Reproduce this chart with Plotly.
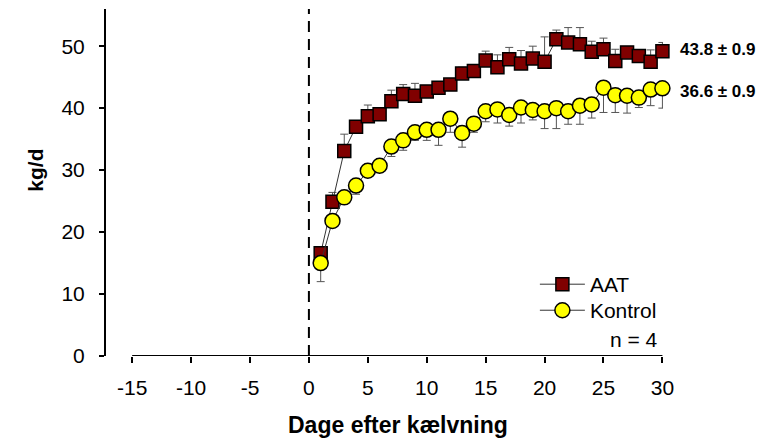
import plotly.graph_objects as go

days = list(range(1, 31))
aat = [16.6, 24.9, 33.1, 37.0, 38.7, 39.0, 41.1, 42.3, 42.0, 42.7,
       43.3, 43.8, 45.6, 46.0, 47.7, 46.6, 47.9, 47.2, 48.0, 47.5,
       51.1, 50.6, 50.3, 49.1, 49.5, 47.6, 49.0, 48.4, 47.5, 49.2]
aat_err = [1.0, 1.5, 2.7, 0.8, 1.8, 0.8, 1.8, 1.5, 2.0, 0.8,
           1.0, 1.0, 1.0, 0.8, 1.5, 2.0, 1.9, 2.1, 2.0, 4.0,
           1.5, 2.4, 2.7, 1.7, 1.8, 1.9, 0.9, 0.8, 1.9, 1.4]
kon = [15.0, 21.8, 25.6, 27.5, 29.9, 30.7, 33.8, 34.8, 36.1, 36.5,
       36.5, 38.3, 36.0, 37.5, 39.5, 39.8, 38.9, 40.1, 39.7, 39.5,
       40.0, 39.5, 40.4, 40.6, 43.3, 42.1, 42.0, 41.7, 43.0, 43.2]
kon_err = [3.0, 0.9, 0.9, 1.4, 0.9, 1.1, 1.6, 1.6, 1.3, 1.7,
           2.5, 2.2, 2.3, 1.4, 1.7, 2.2, 1.8, 2.5, 1.6, 2.8,
           3.3, 2.1, 3.0, 2.2, 4.0, 2.8, 2.8, 1.6, 2.6, 3.2]

x_ticks = [-15, -10, -5, 0, 5, 10, 15, 20, 25, 30]
x_ticklabels = ["-15", "-10", "-5", "0", "5", "10", "15", "20", "25", "30"]
y_ticks = [0, 10, 20, 30, 40, 50]

font_family = "Arial, Liberation Sans, sans-serif"

fig = go.Figure()
fig.add_trace(go.Scatter(
    x=days, y=aat, name="AAT", mode="lines+markers", legend="legend",
    line=dict(color="#333333", width=1),
    marker=dict(symbol="square", size=13, color="#800000",
                line=dict(color="black", width=1.5)),
    error_y=dict(type="data", array=aat_err, arrayminus=[0] * len(aat_err),
                 color="#555555", thickness=1, width=4),
    cliponaxis=False,
))
fig.add_trace(go.Scatter(
    x=days, y=kon, name="Kontrol", mode="lines+markers", legend="legend2",
    line=dict(color="#333333", width=1),
    marker=dict(symbol="circle", size=15, color="#ffff00",
                line=dict(color="black", width=1.5)),
    error_y=dict(type="data", array=[0] * len(kon_err), arrayminus=kon_err,
                 color="#555555", thickness=1, width=4),
    cliponaxis=False,
))

# dashed line at calving
fig.add_shape(type="line", x0=0, x1=0, y0=0, y1=56, xref="x", yref="y",
              line=dict(color="black", width=2, dash="11px,7px"), layer="below")
# x axis line from -15 to 30
fig.add_shape(type="line", x0=-15, x1=30, y0=0, y1=0, xref="x", yref="y",
              line=dict(color="black", width=2))

fig.add_annotation(x=1.027, xref="paper", y=49.4, yref="y", text="<b>43.8 ± 0.9</b>",
                   showarrow=False, xanchor="left", yanchor="middle",
                   font=dict(size=17, color="black", family=font_family))
fig.add_annotation(x=1.027, xref="paper", y=42.7, yref="y", text="<b>36.6 ± 0.9</b>",
                   showarrow=False, xanchor="left", yanchor="middle",
                   font=dict(size=17, color="black", family=font_family))
fig.add_annotation(x=30, xref="x", y=2.6, yref="y", text="n = 4",
                   showarrow=False, xanchor="right", yanchor="middle", xshift=-2,
                   font=dict(size=21, color="black", family=font_family))
fig.add_annotation(x=-0.128, xref="paper", y=0.536, yref="paper", text="<b>kg/d</b>",
                   showarrow=False, textangle=-90, xanchor="center", yanchor="middle",
                   font=dict(size=21, color="black", family=font_family))
fig.add_annotation(x=(398 - 106) / 557, xref="paper", y=-0.199, yref="paper",
                   text="<b>Dage efter kælvning</b>",
                   showarrow=False, xanchor="center", yanchor="middle",
                   font=dict(size=23, color="black", family=font_family))

legend_common = dict(xanchor="left", yanchor="top", bgcolor="rgba(0,0,0,0)",
                     font=dict(size=21), itemwidth=45)

fig.update_layout(
    width=768, height=443,
    margin=dict(l=106, r=105, t=9, b=87),
    paper_bgcolor="white", plot_bgcolor="white",
    font=dict(family=font_family, size=21, color="black"),
    showlegend=True,
    legend=dict(x=0.77, y=0.265, **legend_common),
    legend2=dict(x=0.77, y=0.19, **legend_common),
    xaxis=dict(range=[-17.22, 30.05], showgrid=False, zeroline=False, showline=False,
               tickmode="array", tickvals=x_ticks, ticktext=x_ticklabels,
               ticks="outside", ticklen=6, tickwidth=1.5, tickcolor="black",
               ticklabelstandoff=7, tickfont=dict(size=21)),
    yaxis=dict(range=[0, 56], showgrid=False, zeroline=False, showline=True,
               linecolor="black", linewidth=2,
               tickmode="array", tickvals=y_ticks,
               ticks="outside", ticklen=5, tickwidth=1.5, tickcolor="black",
               ticklabelstandoff=10, tickfont=dict(size=21)),
)

fig.write_html("out.html", post_script="document.body.style.margin='0';",
               config={"displayModeBar": False})
